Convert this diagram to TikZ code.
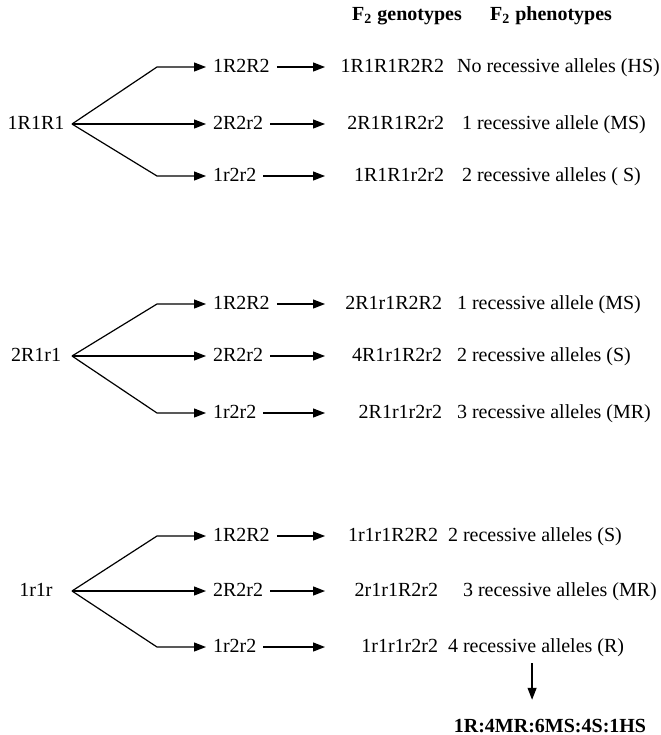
\documentclass[tikz,border=0pt]{standalone}
\usepackage{fontspec}
\setmainfont{Liberation Serif}
\usepackage{tikz}
\usetikzlibrary{positioning, arrows.meta}
\tikzset{
	gtext/.style={font=\normalsize, text height=1.6ex, text depth=.4ex}
}
\tikzset{
	headtext/.style={font=\normalsize\bfseries, text height=1.6ex, text depth=.4ex}
}
\tikzset{
	geno/.style={gtext, anchor=west, text width=#1, align=right},
	geno/.default=56pt
}
\tikzset{
	arr/.style={-{Triangle[length=6pt,width=4.5pt]}, line width=0.6pt}
}

\begin{document}
\begin{tikzpicture}[x=0.5pt, y=-0.5pt]
      \useasboundingbox (0,0) rectangle (660,735);
      \node[headtext] (head1) at (407,15) {F\textsubscript{2} genotypes};
      \node[headtext] (head2) at (551,15) {F\textsubscript{2} phenotypes};

      % 1R1R1
      \node[gtext] (par1) at (36,124) {1R1R1};
      \coordinate (br1) at (72,124);
      \node[gtext, anchor=west] (gam11) at (206,67) {1R2R2};
      \node[gtext, anchor=west] (gam12) at (206,124) {2R2r2};
      \node[gtext, anchor=west] (gam13) at (206,176) {1r2r2};
      \node[geno] (gen11) at (325,67) {1R1R1R2R2};
      \node[geno] (gen12) at (325,124) {2R1R1R2r2};
      \node[geno] (gen13) at (325,176) {1R1R1r2r2};
      \node[gtext, anchor=west] (phe11) at (450,67) {No recessive alleles (HS)};
      \node[gtext, anchor=west] (phe12) at (455,124) {1 recessive allele (MS)};
      \node[gtext, anchor=west] (phe13) at (455,176) {2 recessive alleles ( S)};
      \draw[arr] (br1) -- ([xshift=-24.5pt]gam11.west) -- (gam11.west);
      \draw[arr] (br1) -- (gam12.west);
      \draw[arr] (br1) -- ([xshift=-24.5pt]gam13.west) -- (gam13.west);
      \draw[arr] (gam11.east) -- (gen11.west);
      \draw[arr] (gam12.east) -- (gen12.west);
      \draw[arr] (gam13.east) -- (gen13.west);

      % 2R1r1
      \node[gtext] (par2) at (36,356) {2R1r1};
      \coordinate (br2) at (72,356);
      \node[gtext, anchor=west] (gam21) at (206,304) {1R2R2};
      \node[gtext, anchor=west] (gam22) at (206,356) {2R2r2};
      \node[gtext, anchor=west] (gam23) at (206,413) {1r2r2};
      \node[geno=55pt] (gen21) at (325,304) {2R1r1R2R2};
      \node[geno=55pt] (gen22) at (325,356) {4R1r1R2r2};
      \node[geno=55pt] (gen23) at (325,413) {2R1r1r2r2};
      \node[gtext, anchor=west] (phe21) at (450,304) {1 recessive allele (MS)};
      \node[gtext, anchor=west] (phe22) at (450,356) {2 recessive alleles (S)};
      \node[gtext, anchor=west] (phe23) at (450,413) {3 recessive alleles (MR)};
      \draw[arr] (br2) -- ([xshift=-24.5pt]gam21.west) -- (gam21.west);
      \draw[arr] (br2) -- (gam22.west);
      \draw[arr] (br2) -- ([xshift=-24.5pt]gam23.west) -- (gam23.west);
      \draw[arr] (gam21.east) -- (gen21.west);
      \draw[arr] (gam22.east) -- (gen22.west);
      \draw[arr] (gam23.east) -- (gen23.west);

      % 1r1r
      \node[gtext] (par3) at (36,591) {1r1r};
      \coordinate (br3) at (72,591);
      \node[gtext, anchor=west] (gam31) at (206,536) {1R2R2};
      \node[gtext, anchor=west] (gam32) at (206,591) {2R2r2};
      \node[gtext, anchor=west] (gam33) at (206,647) {1r2r2};
      \node[geno=53pt] (gen31) at (325,536) {1r1r1R2R2};
      \node[geno=53pt] (gen32) at (325,591) {2r1r1R2r2};
      \node[geno=53pt] (gen33) at (325,647) {1r1r1r2r2};
      \node[gtext, anchor=west] (phe31) at (441,536) {2 recessive alleles (S)};
      \node[gtext, anchor=west] (phe32) at (456,591) {3 recessive alleles (MR)};
      \node[gtext, anchor=west] (phe33) at (441,647) {4 recessive alleles (R)};
      \draw[arr] (br3) -- ([xshift=-24.5pt]gam31.west) -- (gam31.west);
      \draw[arr] (br3) -- (gam32.west);
      \draw[arr] (br3) -- ([xshift=-24.5pt]gam33.west) -- (gam33.west);
      \draw[arr] (gam31.east) -- (gen31.west);
      \draw[arr] (gam32.east) -- (gen32.west);
      \draw[arr] (gam33.east) -- (gen33.west);

      \node[headtext] (res) at (550,727) {1R:4MR:6MS:4S:1HS};
      \draw[arr, shorten >=5.5pt] ([xshift=-2pt]phe33.south) -- ([xshift=-2pt]phe33.south |- res.north);
    \end{tikzpicture}
\end{document}
